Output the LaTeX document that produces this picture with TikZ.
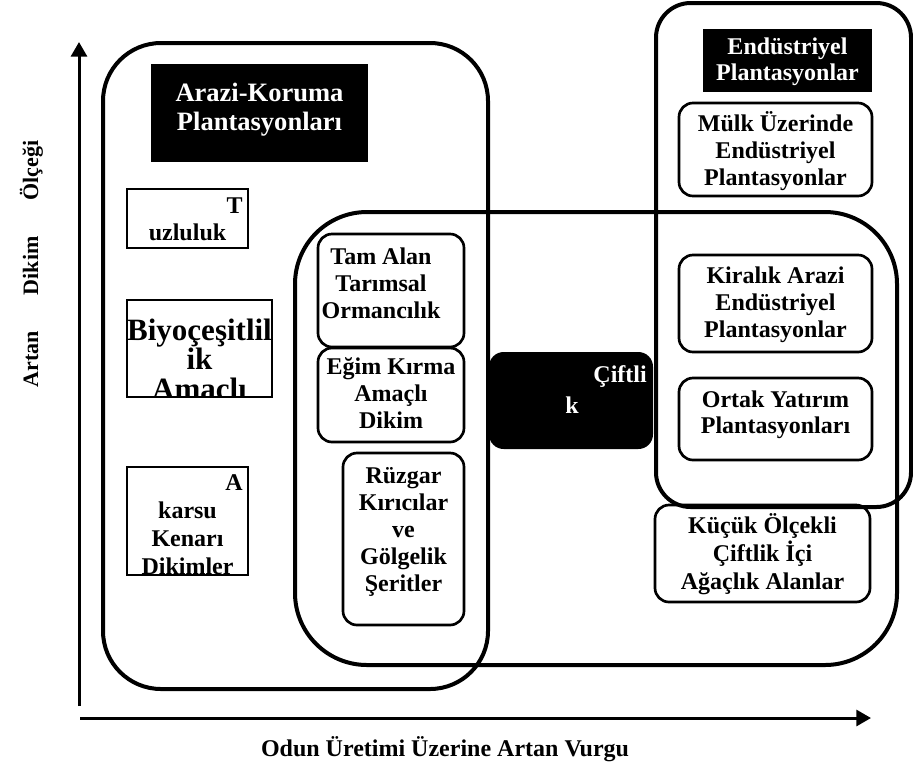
\documentclass[tikz,border=0pt]{standalone}
\usepackage{fontspec}
\setmainfont{Liberation Serif}
\usetikzlibrary{arrows.meta,fit}
\newcommand{\mlines}[1]{\begin{tabular}[t]{@{}c@{}}#1\end{tabular}}
\newcommand{\fnorm}{\fontsize{18}{20.6}\selectfont\bfseries}
\newcommand{\fhead}{\fontsize{19.9}{21.75}\selectfont\bfseries}
\newcommand{\fbig}{\fontsize{23.25}{21}\selectfont\bfseries}
\tikzset{
  big/.style={draw, line width=3pt, inner sep=0pt},
  sbox/.style={draw, line width=2pt, rounded corners=10.5pt, inner sep=0pt},
  pbox/.style={draw, line width=1.6pt, inner sep=0pt},
  hdr/.style={fill=black, inner sep=0pt},
  txt/.style={anchor=base, inner sep=0pt, font=\fnorm},
  wtxt/.style={txt, text=white},
  axis/.style={line width=2.25pt, -{Triangle[length=11pt,width=12pt]}}
}
\begin{document}
\begin{tikzpicture}[x=0.75pt,y=-0.75pt]
\useasboundingbox (0,0) rectangle (913,765);
% big groups
\node[big, rounded corners=43.5pt, fit={(103,43) (488,689)}] (arazi) {};
\node[big, rounded corners=54pt, fit={(295,212) (897,665)}] (ciftlik) {};
\node[big, rounded corners=26pt, fit={(656,3) (911,507)}] (endustri) {};
% headers
\node[hdr, fit={(151,64) (368,162)}] (araziH) {};
\node[wtxt, font=\fhead] (araziT) at (259.5,101) {\mlines{Arazi-Koruma\\Plantasyonları}};
\node[hdr, fit={(703,29) (872,92)}] (endH) {};
\node[wtxt, font=\fontsize{18}{19.5}\selectfont\bfseries] (endT) at (787.5,54) {\mlines{Endüstriyel\\Plantasyonlar}};
% left plain boxes
\node[pbox, fit={(127,189) (248,248)}] (tuz) {};
\node[txt, anchor=base east] (tuzT1) at (243,213) {T};
\node[txt] (tuzT2) at (187.5,240) {uzluluk};
\begin{scope}
  \clip (127,300) rectangle (272,397);
  \node[txt, font=\fbig] (biyoT) at (199.5,340) {\mlines{Biyoçeşitlil\\ik\\Amaçlı}};
\end{scope}
\node[pbox, fit={(127,300) (272,397)}] (biyo) {};
\node[txt, anchor=base east] (aksT1) at (243,490) {A};
\begin{scope}
  \clip (127,467) rectangle (248,575);
  \node[txt, font=\fontsize{18}{21}\selectfont\bfseries] (aksT2) at (187.5,518) {\mlines{karsu\\Kenarı\\Dikimler}};
\end{scope}
\node[pbox, fit={(127,467) (248,575)}] (aks) {};
% middle boxes
\node[sbox, fit={(318,234) (464,347)}] (tam) {};
\node[txt] (tamT) at (381,264) {\mlines{Tam Alan\\Tarımsal\\Ormancılık}};
\node[sbox, fit={(318,348) (464,442)}] (egim) {};
\node[txt] (egimT) at (391,374) {\mlines{Eğim Kırma\\Amaçlı\\Dikim}};
\node[sbox, fit={(343,453) (464,625)}] (ruz) {};
\node[txt, font=\fontsize{18}{20.4}\selectfont\bfseries] (ruzT) at (403.5,483) {\mlines{Rüzgar\\Kırıcılar\\ve\\Gölgelik\\Şeritler}};
% Ciftlik
\node[hdr, rounded corners=11pt, fit={(489,352) (653,449)}] (cift) {};
\node[wtxt, anchor=base east] (ciftT1) at (647,382) {Çiftli};
\node[wtxt] (ciftT2) at (572,413) {k};
% right boxes
\node[sbox, fit={(679,103) (872,196)}] (mulk) {};
\node[txt, font=\fontsize{18}{20.25}\selectfont\bfseries] (mulkT) at (775.5,131) {\mlines{Mülk Üzerinde\\Endüstriyel\\Plantasyonlar}};
\node[sbox, fit={(679,255) (872,352)}] (kira) {};
\node[txt, font=\fontsize{18}{20.6}\selectfont\bfseries] (kiraT) at (775.5,283) {\mlines{Kiralık Arazi\\Endüstriyel\\Plantasyonlar}};
\node[sbox, fit={(679,378) (872,460)}] (ortak) {};
\node[txt, font=\fontsize{18}{19.5}\selectfont\bfseries] (ortakT) at (775.5,407) {\mlines{Ortak Yatırım\\Plantasyonları}};
\node[sbox, fit={(655,505) (870,602)}] (kucuk) {};
\node[txt, font=\fontsize{18}{20.6}\selectfont\bfseries] (kucukT) at (762.5,533) {\mlines{Küçük Ölçekli\\Çiftlik İçi\\Ağaçlık Alanlar}};
% axes
\coordinate (ybot) at (79,706);
\coordinate (ytop) at (79,42);
\coordinate (xl) at (80,718);
\coordinate (xr) at (871,718);
\draw[axis] (ybot) -- (ytop);
\draw[axis] (xl) -- (xr);
\node[txt] (xlab) at (445,756) {Odun Üretimi Üzerine Artan Vurgu};
\node[txt, font=\fontsize{16.5}{18}\selectfont\bfseries, rotate=90] (ylab) at (38,264) {Artan\hspace{27pt}Dikim\hspace{27pt}Ölçeği};
\end{tikzpicture}
\end{document}
